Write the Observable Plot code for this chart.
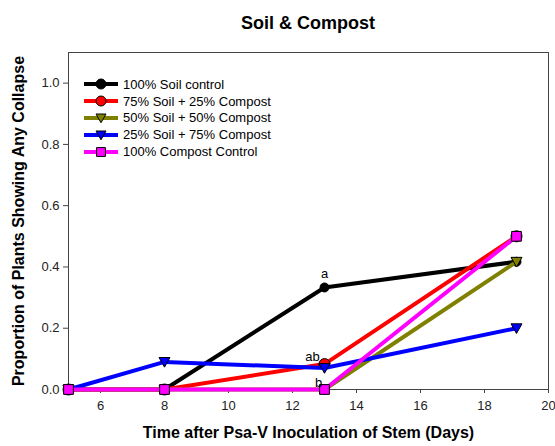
<!DOCTYPE html>
<html>
<head>
<meta charset="utf-8">
<script src="https://cdn.jsdelivr.net/npm/d3@7"></script>
<script src="https://cdn.jsdelivr.net/npm/@observablehq/plot@0.6"></script>
<style>
  html, body { margin: 0; padding: 0; background: #fff; }
  #chart { position: relative; width: 555px; height: 446px; font-family: "Liberation Sans", Arial, sans-serif; }
  #title { position: absolute; left: 108px; width: 400px; top: 13px; text-align: center; font-weight: bold; font-size: 18px; color: #000; }
  #plot { position: absolute; left: 0; top: 0; }
  #legend { position: absolute; left: 84px; top: 76px; font-size: 13px; color: #000; }
  #legend .row { display: flex; align-items: center; height: 16.8px; }
  #legend svg { display: block; margin-right: 5px; }
</style>
</head>
<body>
<div id="chart">
  <div id="plot"></div>
  <div id="title">Soil &amp; Compost</div>
  <div id="legend"></div>
</div>
<script>
// Sampling days after inoculation
const days = [5, 8, 13, 19];

// Treatments, in drawing / legend order
const seriesNames = [
  "100% Soil control",
  "75% Soil + 25% Compost",
  "50% Soil + 50% Compost",
  "25% Soil + 75% Compost",
  "100% Compost Control"
];

// Proportion of plants showing any collapse, per treatment
const soilControl      = [0, 0, 0.333, 0.417];
const soil75compost25  = [0, 0, 0.083, 0.5];
const soil50compost50  = [0, 0, 0, 0.417];
const soil25compost75  = [0, 0.09, 0.07, 0.2];
const compostControl   = [0, 0, 0, 0.5];
const seriesValues = [soilControl, soil75compost25, soil50compost50, soil25compost75, compostControl];

const seriesColors = ["#000000", "#ff0000", "#808000", "#0000ff", "#ff00ff"];

// Significance letters at day 13
const letterDay = 13;
const letters = [
  {series: "100% Soil control", label: "a"},
  {series: "75% Soil + 25% Compost", label: "ab"},
  {series: "100% Compost Control", label: "b"}
];

const xTicks = [6, 8, 10, 12, 14, 16, 18, 20];
const yTicks = [0, 0.2, 0.4, 0.6, 0.8, 1.0];

// Downward-pointing triangle symbol
const triangleDown = {
  draw(context, size) {
    const r = Math.sqrt(size / Math.PI);
    context.moveTo(-r, -0.8 * r);
    context.lineTo(r, -0.8 * r);
    context.lineTo(0, 0.95 * r);
    context.closePath();
  }
};
const seriesSymbols = ["circle", "circle", triangleDown, triangleDown, "square"];

const rows = seriesNames.flatMap((name, i) =>
  days.map((d, j) => ({series: name, day: d, value: seriesValues[i][j], idx: i})));

const letterRows = letters.map(l => {
  const i = seriesNames.indexOf(l.series);
  return {...l, day: letterDay, value: seriesValues[i][days.indexOf(letterDay)]};
});

const marks = [];
seriesNames.forEach((name, i) => {
  const data = rows.filter(r => r.series === name);
  marks.push(Plot.line(data, {x: "day", y: "value", stroke: seriesColors[i], strokeWidth: 4}));
  marks.push(Plot.dot(data, {x: "day", y: "value", symbol: () => seriesSymbols[i], r: i === 0 ? 4.5 : 5.5,
    fill: seriesColors[i], stroke: "#000", strokeWidth: 1}));
});

const chart = Plot.plot({
  width: 555,
  height: 446,
  marginLeft: 68,
  marginRight: 7,
  marginTop: 52,
  marginBottom: 57,
  style: {fontFamily: "Liberation Sans, Arial, sans-serif", fontSize: "13px", color: "#222", background: "#fff"},
  x: {domain: [5, 20]},
  y: {domain: [0, 1.1]},
  symbol: {domain: seriesNames, range: seriesSymbols},
  marks: [
    Plot.frame({stroke: "#444"}),
    Plot.axisX({ticks: xTicks, tickSize: 4, tickPadding: 7, label: null, stroke: "#444", fontSize: 13}),
    Plot.axisY({ticks: yTicks, tickSize: 5, tickPadding: 4, tickFormat: d3.format(".1f"), label: null, stroke: "#444", fontSize: 13}),
    Plot.text(["Time after Psa-V Inoculation of Stem (Days)"], {frameAnchor: "bottom", dy: 48, textAnchor: "middle", fontWeight: "bold", fontSize: 16, fill: "#000"}),
    Plot.text(["Proportion of Plants Showing Any Collapse"], {frameAnchor: "left", textAnchor: "middle", rotate: -90, dx: -50, fontWeight: "bold", fontSize: 16, fill: "#000"}),
    ...marks,
    Plot.text(letterRows.filter(d => d.label === "a"), {x: "day", y: "value", text: "label", dy: -14, fontSize: 13, fill: "#000"}),
    Plot.text(letterRows.filter(d => d.label === "ab"), {x: "day", y: "value", text: "label", dx: -12, dy: -7, fontSize: 13, fill: "#000"}),
    Plot.text(letterRows.filter(d => d.label === "b"), {x: "day", y: "value", text: "label", dx: -6, dy: -7, fontSize: 13, fill: "#000"})
  ]
});
document.getElementById("plot").appendChild(chart);

// Legend drawn inside the plot area
const legend = d3.select("#legend");
seriesNames.forEach((name, i) => {
  const row = legend.append("div").attr("class", "row");
  const svg = row.append("svg").attr("width", 34).attr("height", 14);
  svg.append("line").attr("x1", 0).attr("x2", 34).attr("y1", 7).attr("y2", 7)
    .attr("stroke", seriesColors[i]).attr("stroke-width", 4);
  const sym = typeof seriesSymbols[i] === "string"
    ? {circle: d3.symbolCircle, square: d3.symbolSquare}[seriesSymbols[i]]
    : seriesSymbols[i];
  svg.append("path").attr("transform", "translate(17,7)")
    .attr("d", d3.symbol(sym, 5 * 5 * Math.PI)())
    .attr("fill", seriesColors[i]).attr("stroke", "#000").attr("stroke-width", 1);
  row.append("span").text(name);
});
</script>
</body>
</html>
